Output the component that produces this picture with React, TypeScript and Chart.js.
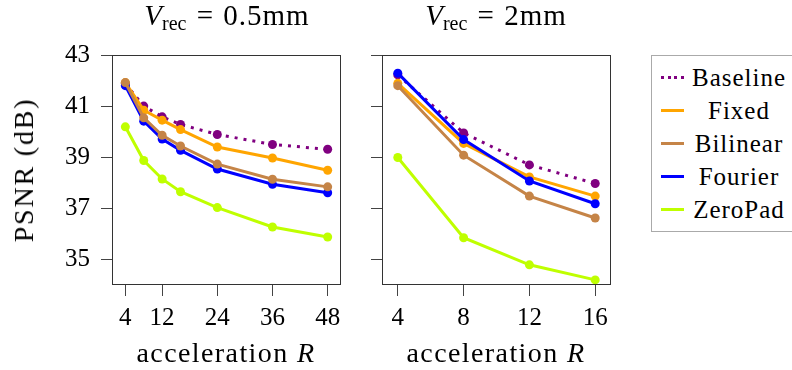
import React, { useEffect, useRef } from "react";
import { Chart, registerables } from "chart.js";

Chart.register(...registerables);

// ---- data ----
const leftR = [4, 8, 12, 16, 24, 36, 48];
const rightR = [4, 8, 12, 16];
const leftXTicks = [4, 12, 24, 36, 48];
const rightXTicks = [4, 8, 12, 16];
const yTicks = [35, 37, 39, 41, 43];

const methods = ["Baseline", "Fixed", "Bilinear", "Fourier", "ZeroPad"];
// drawing layer (0 = top)
const drawOrder = [3, 2, 0, 1, 4];

const leftBaseline = [41.88, 41.0, 40.58, 40.28, 39.89, 39.5, 39.31];
const leftFixed = [41.92, 40.84, 40.45, 40.08, 39.4, 38.97, 38.49];
const leftBilinear = [41.92, 40.54, 39.86, 39.44, 38.73, 38.14, 37.84];
const leftFourier = [41.8, 40.41, 39.71, 39.27, 38.54, 37.94, 37.61];
const leftZeroPad = [40.19, 38.87, 38.15, 37.65, 37.03, 36.27, 35.88];

const rightBaseline = [42.22, 39.95, 38.7, 37.97];
const rightFixed = [41.89, 39.54, 38.23, 37.48];
const rightBilinear = [41.8, 39.08, 37.48, 36.62];
const rightFourier = [42.29, 39.69, 38.07, 37.18];
const rightZeroPad = [38.99, 35.85, 34.79, 34.2];

const colors = ["#800080", "#ffa500", "#c58447", "#0000ff", "#bfff00"];
const FONT = "'Liberation Serif', 'Times New Roman', serif";

const boxPlugin = {
  id: "box",
  afterDraw(chart: any) {
    const { ctx, chartArea } = chart;
    ctx.save();
    ctx.strokeStyle = "#333";
    ctx.lineWidth = 1;
    ctx.strokeRect(
      Math.round(chartArea.left) + 0.5,
      Math.round(chartArea.top) + 0.5,
      Math.round(chartArea.right - chartArea.left) - 1,
      Math.round(chartArea.bottom - chartArea.top) - 1
    );
    ctx.restore();
  },
};

function makeConfig(
  xs: number[],
  seriesVals: number[][],
  xMin: number,
  xMax: number,
  xTicks: number[],
  yWidth: number,
  showYLabels: boolean
): any {
  return {
    type: "line",
    data: {
      datasets: seriesVals.map((vals, i) => ({
        label: methods[i],
        data: xs.map((x, j) => ({ x, y: vals[j] })),
        borderColor: colors[i],
        backgroundColor: colors[i],
        borderWidth: 3,
        borderDash: i === 0 ? [3, 6] : [],
        pointRadius: 4.5,
        pointBorderWidth: 0,
        pointBackgroundColor: colors[i],
        tension: 0,
        order: drawOrder[i],
      })),
    },
    options: {
      animation: false,
      responsive: false,
      layout: { padding: { left: 0, right: 29, top: 55, bottom: 0 } },
      plugins: { legend: { display: false }, tooltip: { enabled: false } },
      scales: {
        x: {
          type: "linear",
          min: xMin,
          max: xMax,
          afterBuildTicks: (s: any) => {
            s.ticks = xTicks.map((v) => ({ value: v }));
          },
          afterFit: (s: any) => {
            s.height = 55;
          },
          grid: { drawOnChartArea: false, tickLength: 11, color: "#444" },
          border: { display: false },
          ticks: {
            font: { family: FONT, size: 25 },
            color: "#000",
            padding: 7,
            maxRotation: 0,
            autoSkip: false,
          },
        },
        y: {
          type: "linear",
          min: 34,
          max: 43,
          afterBuildTicks: (s: any) => {
            s.ticks = yTicks.map((v) => ({ value: v }));
          },
          afterFit: (s: any) => {
            s.width = yWidth;
          },
          grid: { drawOnChartArea: false, tickLength: 11, color: "#444" },
          border: { display: false },
          ticks: {
            font: { family: FONT, size: 25 },
            color: showYLabels ? "#000" : "rgba(0,0,0,0)",
            padding: 11,
            autoSkip: false,
          },
        },
      },
    },
    plugins: [boxPlugin],
  };
}

function Panel(props: { config: any; left: number; width: number; height: number }) {
  const ref = useRef<HTMLCanvasElement>(null);
  useEffect(() => {
    if (!ref.current) return;
    const chart = new Chart(ref.current, props.config);
    return () => chart.destroy();
  }, []);
  return (
    <canvas
      ref={ref}
      width={props.width}
      height={props.height}
      style={{ position: "absolute", left: props.left, top: 0, width: props.width, height: props.height }}
    />
  );
}

function Title(props: { left: number; value: string }) {
  return (
    <div
      style={{
        position: "absolute",
        top: 0,
        left: props.left,
        fontSize: 29,
        whiteSpace: "nowrap",
        transform: "translateX(-50%)",
        lineHeight: "30px",
      }}
    >
      <i>V</i>
      <span style={{ fontSize: 20, position: "relative", top: 5 }}>rec</span>
      <span style={{ margin: "0 3px" }}> = </span>
      <span style={{ letterSpacing: "1px" }}>{props.value}</span>
    </div>
  );
}

export default function App() {
  const leftCfg = makeConfig(
    leftR,
    [leftBaseline, leftFixed, leftBilinear, leftFourier, leftZeroPad],
    1.1,
    50.9,
    leftXTicks,
    112,
    true
  );
  const rightCfg = makeConfig(
    rightR,
    [rightBaseline, rightFixed, rightBilinear, rightFourier, rightZeroPad],
    3.04,
    16.96,
    rightXTicks,
    12,
    false
  );
  const xTitleStyle: any = {
    position: "absolute",
    top: 338,
    fontSize: 28,
    letterSpacing: "1.4px",
    whiteSpace: "nowrap",
    transform: "translateX(-50%)",
    lineHeight: "30px",
  };
  return (
    <div
      style={{
        position: "absolute",
        left: 0,
        top: 0,
        width: 792,
        height: 370,
        overflow: "hidden",
        background: "#fff",
        fontFamily: FONT,
        color: "#000",
      }}
    >
      <Panel config={leftCfg} left={0} width={370} height={340} />
      <Panel config={rightCfg} left={370} width={270} height={340} />
      <Title left={227} value="0.5mm" />
      <Title left={496} value="2mm" />
      <div style={{ ...xTitleStyle, left: 226 }}>
        acceleration <i>R</i>
      </div>
      <div style={{ ...xTitleStyle, left: 496 }}>
        acceleration <i>R</i>
      </div>
      <div
        style={{
          position: "absolute",
          left: 23.5,
          top: 170,
          fontSize: 28,
          letterSpacing: "1.8px",
          whiteSpace: "nowrap",
          transform: "translate(-50%, -50%) rotate(-90deg)",
          lineHeight: "30px",
        }}
      >
        PSNR (dB)
      </div>
      <div
        style={{
          position: "absolute",
          left: 651,
          top: 55,
          width: 160,
          height: 177,
          border: "1px solid #aaa",
          boxSizing: "border-box",
          paddingTop: 5,
        }}
      >
        {methods.map((m, i) => (
          <div key={m} style={{ position: "relative", height: 33 }}>
            <div
              style={{
                position: "absolute",
                left: 9,
                top: 15,
                width: 23,
                height: 0,
                borderTop: i === 0 ? `3px dotted ${colors[i]}` : `3px solid ${colors[i]}`,
              }}
            />
            <div
              style={{
                position: "absolute",
                left: 39,
                width: 96,
                top: 0,
                textAlign: "center",
                fontSize: 25,
                letterSpacing: "1px",
                lineHeight: "33px",
                whiteSpace: "nowrap",
              }}
            >
              {m}
            </div>
          </div>
        ))}
      </div>
    </div>
  );
}
